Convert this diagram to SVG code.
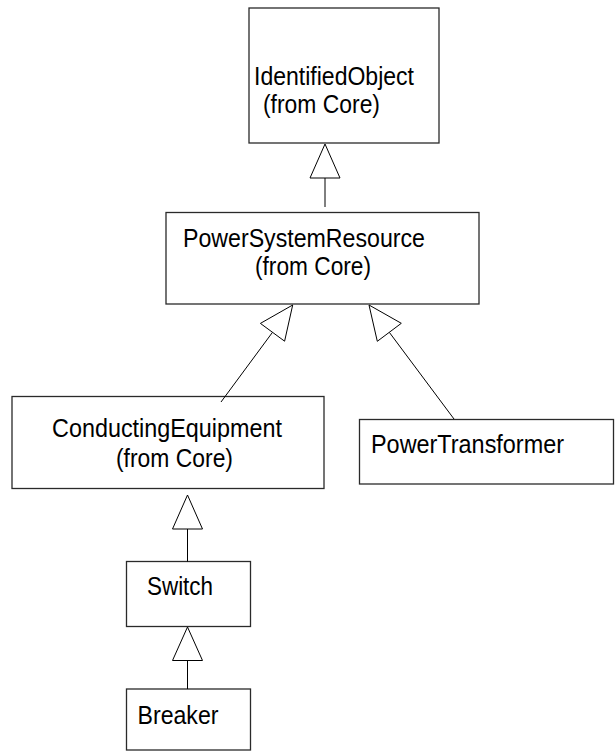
<svg xmlns="http://www.w3.org/2000/svg" width="616" height="753" viewBox="0 0 616 753">
  <style>
    .box { fill: #ffffff; stroke: #2a2a2a; stroke-width: 1.3; }
    .lbl { font-family: "Liberation Sans", Arial, sans-serif; font-size: 25px; fill: #000000; }
    .edge { fill: none; stroke: #000000; stroke-width: 1; }
    .head { fill: #ffffff; stroke: #000000; stroke-width: 1; stroke-linejoin: miter; }
  </style>
  <rect x="0" y="0" width="616" height="753" fill="#ffffff"/>

  <!-- classes -->
  <g id="IdentifiedObject">
    <rect class="box" x="249" y="8" width="190" height="135"/>
    <text class="lbl" x="254" y="85" textLength="160" lengthAdjust="spacingAndGlyphs">IdentifiedObject</text>
    <text class="lbl" x="263" y="113" textLength="117" lengthAdjust="spacingAndGlyphs">(from Core)</text>
  </g>

  <g id="PowerSystemResource">
    <rect class="box" x="166" y="212.5" width="313" height="91.5"/>
    <text class="lbl" x="183" y="247" textLength="242" lengthAdjust="spacingAndGlyphs">PowerSystemResource</text>
    <text class="lbl" x="255" y="275" textLength="116" lengthAdjust="spacingAndGlyphs">(from Core)</text>
  </g>

  <g id="ConductingEquipment">
    <rect class="box" x="12" y="396.5" width="312" height="92"/>
    <text class="lbl" x="52" y="437" textLength="230" lengthAdjust="spacingAndGlyphs">ConductingEquipment</text>
    <text class="lbl" x="116" y="467" textLength="117" lengthAdjust="spacingAndGlyphs">(from Core)</text>
  </g>

  <g id="PowerTransformer">
    <rect class="box" x="359.5" y="419.5" width="254" height="64.5"/>
    <text class="lbl" x="371" y="453" textLength="193" lengthAdjust="spacingAndGlyphs">PowerTransformer</text>
  </g>

  <g id="Switch">
    <rect class="box" x="126.5" y="561.5" width="124" height="65"/>
    <text class="lbl" x="147" y="595" textLength="66" lengthAdjust="spacingAndGlyphs">Switch</text>
  </g>

  <g id="Breaker">
    <rect class="box" x="126.5" y="689" width="124" height="61"/>
    <text class="lbl" x="137.5" y="724" textLength="81" lengthAdjust="spacingAndGlyphs">Breaker</text>
  </g>

  <!-- generalization connectors -->
  <g id="connectors">
    <line class="edge" x1="325" y1="178" x2="325" y2="207"/>
    <polygon class="head" points="325,144 310,178 340,178"/>

    <line class="edge" x1="272.5" y1="332.3" x2="221" y2="402"/>
    <polygon class="head" points="292.7,305 284.6,341.2 260.4,323.4"/>

    <line class="edge" x1="389.3" y1="332.3" x2="454" y2="419"/>
    <polygon class="head" points="369,305 401.3,323.3 377.3,341.3"/>

    <line class="edge" x1="187.5" y1="529" x2="187.5" y2="561.5"/>
    <polygon class="head" points="187.5,495 172.5,529 202.5,529"/>

    <line class="edge" x1="187.5" y1="660.5" x2="187.5" y2="689"/>
    <polygon class="head" points="187.5,627 172.5,660.5 202.5,660.5"/>
  </g>
</svg>
